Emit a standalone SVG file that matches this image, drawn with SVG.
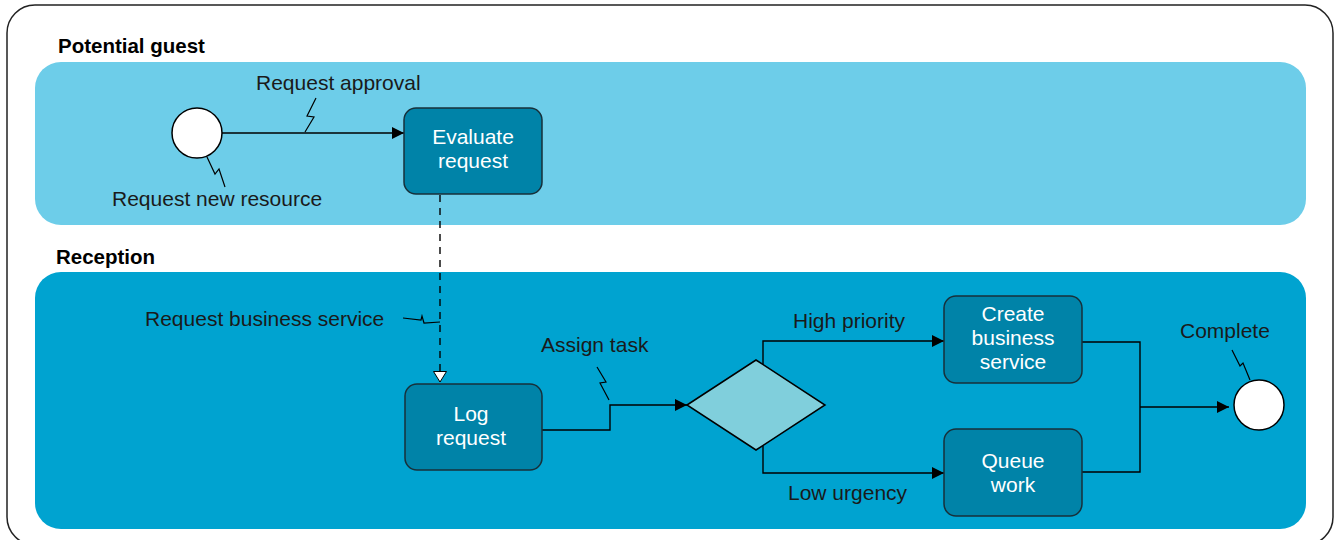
<svg xmlns="http://www.w3.org/2000/svg" width="1340" height="540" viewBox="0 0 1340 540">
<defs>
<style>
.lbl{font-family:"Liberation Sans",Arial,sans-serif;font-size:21px;fill:#1a1a1a}
.lane{font-family:"Liberation Sans",Arial,sans-serif;font-size:20.5px;font-weight:bold;fill:#000}
.task{fill:#0083a8;stroke:#17303a;stroke-width:1.5}
.tt{font-family:"Liberation Sans",Arial,sans-serif;font-size:21px;fill:#fff;text-anchor:middle}
.ev{fill:#fff;stroke:#000;stroke-width:1.5}
.ln{fill:none;stroke:#000;stroke-width:1.4}
.zz{fill:none;stroke:#000;stroke-width:1.2}
</style>
<marker id="arr" viewBox="0 0 12 12" refX="12" refY="6" markerWidth="12" markerHeight="12" markerUnits="userSpaceOnUse" orient="auto">
<path d="M0,0 L12,6 L0,12 z" fill="#000"/>
</marker>
<marker id="harr" viewBox="0 0 14 12" refX="7" refY="11" markerWidth="14" markerHeight="12" markerUnits="userSpaceOnUse" orient="0">
<path d="M0.5,0.5 L13.5,0.5 L7,11 z" fill="#fff" stroke="#000" stroke-width="1"/>
</marker>
</defs>
<rect x="0" y="0" width="1340" height="540" fill="#fff"/>
<rect x="7" y="5" width="1326" height="540" rx="28" fill="#fff" stroke="#222" stroke-width="1.5"/>
<g id="lane-potential-guest">
<rect x="35" y="62" width="1271" height="163" rx="26" fill="#6dcde9"/>
<text class="lane" x="58" y="53">Potential guest</text>
</g>
<g id="lane-reception">
<rect x="35" y="272" width="1271" height="257" rx="26" fill="#00a3d0"/>
<text class="lane" x="56" y="264">Reception</text>
</g>
<g id="connectors">
<path class="ln" d="M222,133 L404,133" marker-end="url(#arr)"/>
<path class="zz" d="M305,132 L314,117 L307,116 L316,98"/>
<text class="lbl" x="256" y="90">Request approval</text>
<path class="zz" d="M207,157 L215,174 L219,169 L225,187"/>
<text class="lbl" x="112" y="206">Request new resource</text>
<path class="ln" d="M440,195 L440,382" stroke-dasharray="7,6" marker-end="url(#harr)"/>
<path class="zz" d="M403,318 L421,320 L422,316 L424,323 L440,322"/>
<text class="lbl" x="145" y="326">Request business service</text>
<path class="ln" d="M542,430 L610,430 L610,405 L687,405" marker-end="url(#arr)"/>
<path class="zz" d="M597,367 L606,382 L600,383 L609,400"/>
<text class="lbl" x="541" y="352">Assign task</text>
<path class="ln" d="M763,365 L763,341 L944,341" marker-end="url(#arr)"/>
<text class="lbl" x="793" y="328">High priority</text>
<path class="ln" d="M763,446 L763,473 L944,473" marker-end="url(#arr)"/>
<text class="lbl" x="788" y="500">Low urgency</text>
<path class="ln" d="M1082,342 L1140,342 L1140,472 L1082,472"/>
<path class="ln" d="M1140,407 L1229,407" marker-end="url(#arr)"/>
<path class="zz" d="M1232,350 L1240,366 L1243,363 L1250,380"/>
<text class="lbl" x="1180" y="338">Complete</text>
</g>
<g id="start-event">
<circle class="ev" cx="197" cy="133" r="25"/>
</g>
<g id="evaluate-request">
<rect class="task" x="404" y="108" width="138" height="86" rx="12"/>
<text class="tt" x="473" y="144">Evaluate</text>
<text class="tt" x="473" y="168">request</text>
</g>
<g id="log-request">
<rect class="task" x="405" y="384" width="137" height="86" rx="12"/>
<text class="tt" x="471" y="421">Log</text>
<text class="tt" x="471" y="445">request</text>
</g>
<g id="gateway">
<path d="M687,405 L756,360 L825,405 L756,450 z" fill="#80cfdc" stroke="#000" stroke-width="1.5"/>
</g>
<g id="create-business-service">
<rect class="task" x="944" y="296" width="138" height="87" rx="12"/>
<text class="tt" x="1013" y="321">Create</text>
<text class="tt" x="1013" y="345">business</text>
<text class="tt" x="1013" y="369">service</text>
</g>
<g id="queue-work">
<rect class="task" x="944" y="429" width="138" height="87" rx="12"/>
<text class="tt" x="1013" y="468">Queue</text>
<text class="tt" x="1013" y="492">work</text>
</g>
<g id="end-event">
<circle class="ev" cx="1259" cy="405" r="25"/>
</g>
</svg>
